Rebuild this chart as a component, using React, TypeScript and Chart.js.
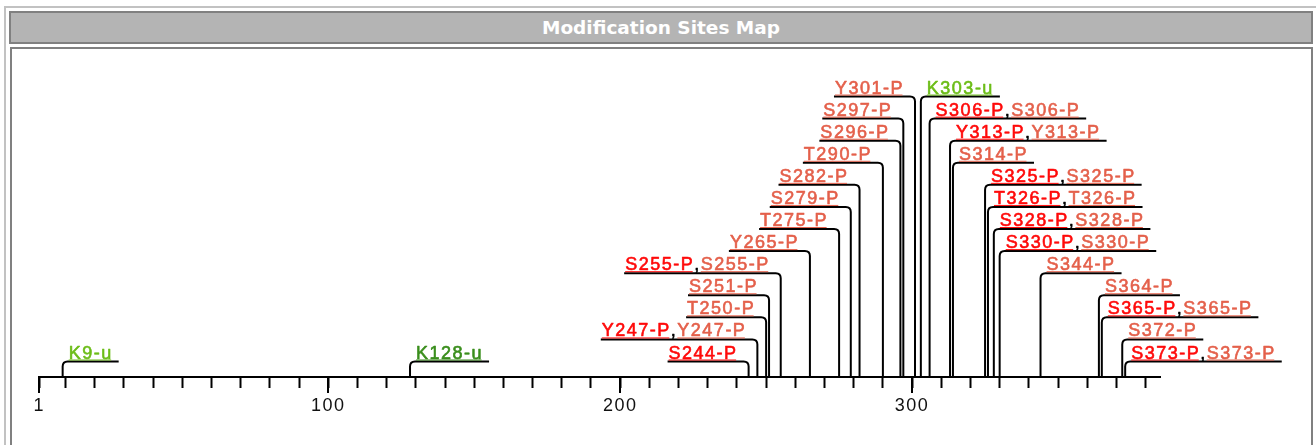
import React, { useEffect, useRef } from "react";
import { Chart, registerables } from "chart.js";

Chart.register(...registerables);

// ---------------- data ----------------
const chartTitle = "Modification Sites Map";
const proteinLength = 385;
const tickLabelValues = [1, 100, 200, 300];
const minorTickValues = [10, 20, 30, 40, 50, 60, 70, 80, 90, 100, 110, 120, 130, 140, 150, 160, 170, 180, 190, 200, 210, 220, 230, 240, 250, 260, 270, 280, 290, 300, 310, 320, 330, 340, 350, 360, 370, 380];

const sitePositions = [9, 128, 244, 247, 250, 251, 255, 265, 275, 279, 282, 290, 296, 297, 301, 303, 306, 313, 314, 325, 326, 328, 330, 344, 364, 365, 372, 373];
const siteLabels = ["K9-u", "K128-u", "S244-P", "Y247-P", "T250-P", "S251-P", "S255-P", "Y265-P", "T275-P", "S279-P", "S282-P", "T290-P", "S296-P", "S297-P", "Y301-P", "K303-u", "S306-P", "Y313-P", "S314-P", "S325-P", "T326-P", "S328-P", "S330-P", "S344-P", "S364-P", "S365-P", "S372-P", "S373-P"];
// evidence sources reporting each site (A = primary, B = secondary, U1/U2 = ubiquitination sources)
const siteSources = [["U1"], ["U2"], ["A"], ["A", "B"], ["B"], ["B"], ["A", "B"], ["B"], ["B"], ["B"], ["B"], ["B"], ["B"], ["B"], ["B"], ["U1"], ["A", "B"], ["A", "B"], ["B"], ["A", "B"], ["A", "B"], ["A", "B"], ["A", "B"], ["B"], ["B"], ["A", "B"], ["B"], ["A", "B"]];

// ---------------- styles ----------------
const sourceColors: Record<string, string> = {
  A: "#ff0a0a",
  B: "#e4604b",
  U1: "#6cbd18",
  U2: "#3a8e1c",
};
const LABEL_FONT = '18px "Liberation Sans", Arial, sans-serif';
const LETTER_SPACING = "1.5px";
const ROW0 = 15.5; // px above axis for lowest label row
const ROW_STEP = 22.08; // px between label rows
const CANVAS_W = 1299;
const CANVAS_H = 396;
const AXIS_FROM_TOP = 328;

type Placed = { pos: number; label: string; sources: string[]; side: "left" | "right"; level: number };

function layoutSites(): Placed[] {
  const items = sitePositions.map((p, i) => ({ pos: p, label: siteLabels[i], sources: siteSources[i] }));
  const sorted = [...items].sort((a, b) => a.pos - b.pos);
  const clusters: typeof sorted[] = [];
  sorted.forEach((it) => {
    const last = clusters[clusters.length - 1];
    if (last && it.pos - last[last.length - 1].pos < 30) last.push(it);
    else clusters.push([it]);
  });
  const out: Placed[] = [];
  clusters.forEach((c) => {
    if (c.length === 1) {
      out.push({ ...c[0], side: "right", level: 0 });
      return;
    }
    const half = Math.floor(c.length / 2);
    c.forEach((it, i) => {
      if (i < half) out.push({ ...it, side: "left", level: i });
      else out.push({ ...it, side: "right", level: c.length - 1 - i });
    });
  });
  return out;
}

const sitesPlugin = {
  id: "sitesMap",
  beforeDraw(chart: any) {
    chart.ctx.letterSpacing = LETTER_SPACING;
  },
  afterDatasetsDraw(chart: any) {
    const ctx: CanvasRenderingContext2D = chart.ctx;
    const xs = chart.scales.x;
    const ys = chart.scales.y;
    const axisY = ys.getPixelForValue(0);
    const placed = layoutSites();
    ctx.save();
    ctx.font = LABEL_FONT;
    (ctx as any).letterSpacing = LETTER_SPACING;
    ctx.textBaseline = "alphabetic";
    ctx.textAlign = "left";
    const r = 5;
    placed.forEach((it) => {
      const sx = xs.getPixelForValue(it.pos);
      const ry = ys.getPixelForValue(ROW0 + ROW_STEP * it.level);
      const parts: { text: string; color: string }[] = [];
      it.sources.forEach((s, k) => {
        if (k > 0) parts.push({ text: ",", color: "#000" });
        parts.push({ text: it.label, color: sourceColors[s] });
      });
      const widths = parts.map((p) => ctx.measureText(p.text).width);
      const tw = widths.reduce((a, b) => a + b, 0);
      ctx.strokeStyle = "#000";
      ctx.lineWidth = 2;
      ctx.lineCap = "butt";
      ctx.lineJoin = "round";
      ctx.beginPath();
      let textX: number;
      if (it.side === "left") {
        const x0 = sx - tw - 12;
        ctx.moveTo(x0, ry);
        ctx.lineTo(sx - r, ry);
        ctx.quadraticCurveTo(sx, ry, sx, ry + r);
        ctx.lineTo(sx, axisY);
        textX = x0 + 1;
      } else {
        const x1 = sx + tw + 12;
        ctx.moveTo(sx, axisY);
        ctx.lineTo(sx, ry + r);
        ctx.quadraticCurveTo(sx, ry, sx + r, ry);
        ctx.lineTo(x1, ry);
        textX = sx + 6;
      }
      ctx.stroke();
      let cx = textX;
      parts.forEach((p, k) => {
        ctx.fillStyle = p.color;
        ctx.strokeStyle = p.color;
        ctx.lineWidth = 0.6;
        ctx.fillText(p.text, cx, ry - 3);
        ctx.strokeText(p.text, cx, ry - 3);
        if (p.text !== ",") {
          ctx.fillRect(cx, ry - 2, widths[k] - 1.5, 1);
        }
        cx += widths[k];
      });
    });
    ctx.strokeStyle = "#000";
    ctx.lineWidth = 2;
    tickLabelValues.forEach((v) => {
      const x = Math.round(xs.getPixelForValue(v));
      ctx.beginPath();
      ctx.moveTo(x, axisY);
      ctx.lineTo(x, axisY + 16);
      ctx.stroke();
    });
    ctx.restore();
  },
};

function SitesChart() {
  const ref = useRef<HTMLCanvasElement | null>(null);
  useEffect(() => {
    if (!ref.current) return;
    const chart = new Chart(ref.current, {
      type: "scatter",
      data: {
        datasets: [
          {
            label: "sites",
            data: sitePositions.map((p) => ({ x: p, y: 0 })),
            pointRadius: 0,
            pointHoverRadius: 0,
            showLine: false,
          },
        ],
      },
      options: {
        responsive: false,
        maintainAspectRatio: false,
        animation: false,
        events: [],
        layout: { padding: { left: 27.3, right: 150.8, top: 0, bottom: 0 } },
        plugins: { legend: { display: false }, tooltip: { enabled: false }, title: { display: false } },
        scales: {
          x: {
            type: "linear",
            position: "bottom",
            min: 1,
            max: proteinLength,
            afterBuildTicks: (scale: any) => {
              scale.ticks = [1, ...minorTickValues].map((v) => ({ value: v }));
            },
            afterFit: (scale: any) => {
              scale.height = CANVAS_H - AXIS_FROM_TOP;
            },
            grid: {
              display: true,
              drawOnChartArea: false,
              drawTicks: true,
              tickLength: 11,
              tickWidth: 2,
              tickColor: "#000",
            },
            border: { display: true, color: "#000", width: 2 },
            ticks: {
              autoSkip: false,
              maxRotation: 0,
              minRotation: 0,
              padding: 7,
              color: "#111",
              font: { family: '"Liberation Sans", Arial, sans-serif', size: 18 },
              callback: (v: any) => (tickLabelValues.includes(Number(v)) ? String(v) : ""),
            },
          },
          y: {
            type: "linear",
            display: false,
            min: 0,
            max: AXIS_FROM_TOP,
          },
        },
      },
      plugins: [sitesPlugin],
    } as any);
    return () => chart.destroy();
  }, []);
  return (
    <canvas
      ref={ref}
      width={CANVAS_W}
      height={CANVAS_H}
      style={{ position: "absolute", left: 12, top: 49, width: CANVAS_W, height: CANVAS_H, display: "block" }}
    />
  );
}

export default function App() {
  return (
    <div style={{ position: "absolute", left: 0, top: 0, width: 1316, height: 445, overflow: "hidden", background: "#fff" }}>
      <div
        style={{
          position: "absolute",
          left: 4,
          top: 6,
          width: 1400,
          height: 600,
          borderLeft: "2px solid #c2c2c2",
          borderTop: "2px solid #c2c2c2",
        }}
      />
      <div
        style={{
          position: "absolute",
          left: 9,
          top: 11,
          width: 1304,
          height: 32.5,
          boxSizing: "border-box",
          border: "2px solid #808080",
          background: "#b4b4b4",
          color: "#fff",
          display: "flex",
          alignItems: "center",
          justifyContent: "center",
          font: 'bold 18.5px "DejaVu Sans", Verdana, sans-serif',
        }}
      >
        {chartTitle}
      </div>
      <div
        style={{
          position: "absolute",
          left: 10,
          top: 47,
          width: 1303,
          height: 600,
          boxSizing: "border-box",
          border: "2px solid #808080",
          background: "#fff",
        }}
      />
      <SitesChart />
    </div>
  );
}
